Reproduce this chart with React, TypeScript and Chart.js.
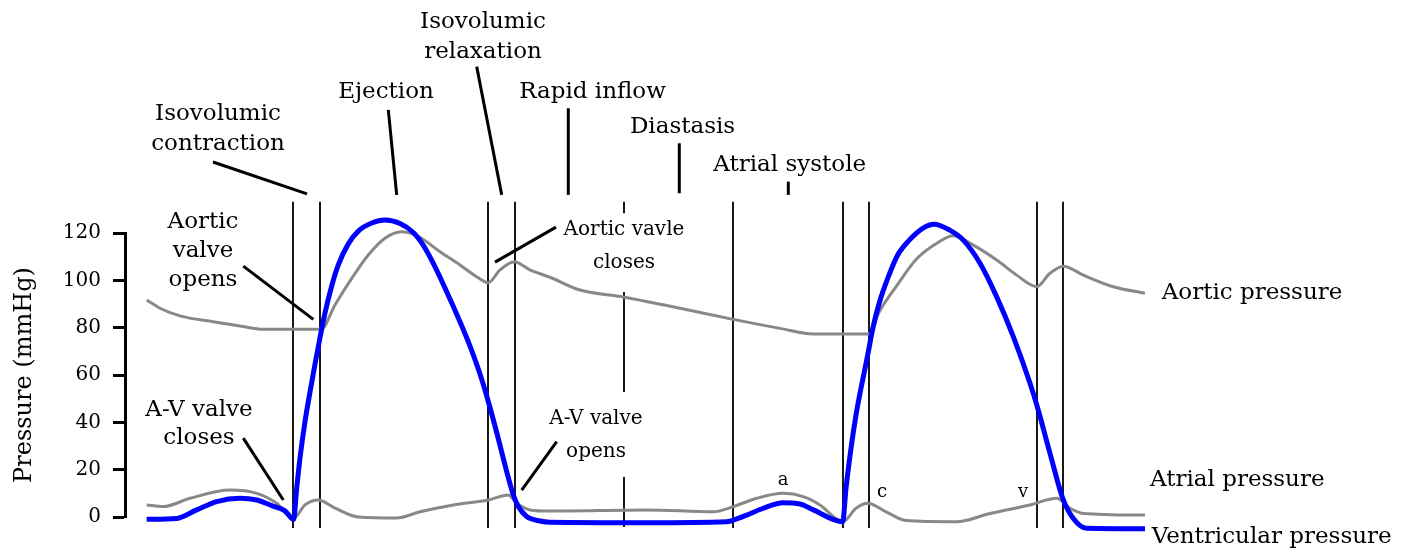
import React, { useEffect, useRef } from "react";
import { Chart, registerables } from "chart.js";

Chart.register(...registerables);

// time axis (arbitrary units) and pressures (mmHg)
const ventricularTime = [21.7, 51.7, 71.7, 91.7, 115, 131.7, 148, 160, 168.5, 171.7, 175, 180, 185, 190, 195, 200, 206.7, 213.3, 223.3, 233.3, 246.7, 260, 275, 288.3, 298, 308.3, 321.7, 335, 345, 355, 363.3, 371.7, 381.7, 388.3, 393.3, 401.7, 415, 425, 521.7, 601.7, 608.3, 621.7, 638.3, 658.3, 675, 688.3, 717.7, 721, 726, 731, 736, 742.7, 747.7, 754.3, 762.7, 772.7, 784.3, 797.7, 809.3, 824.3, 838.3, 855, 871.7, 888.3, 905, 912.3, 925, 938.3, 948.3, 961.7, 1020];
const ventricularPressure = [-1, -0.6, 3, 6.5, 7.9, 7.2, 4.6, 2.6, -1, 12.1, 24.9, 40.3, 52.8, 64.6, 75.8, 86.2, 97.6, 106.5, 115.4, 120.8, 124.2, 125.5, 124, 120.2, 115, 107.2, 95.2, 82.5, 72.2, 60.4, 48.8, 35.7, 19.2, 9.4, 4.4, 0.2, -1.7, -2.2, -2.4, -2, -1.3, 0.8, 3.7, 6, 5.5, 3, -2, 12.1, 29, 43.1, 54.4, 68.4, 79.5, 90.5, 100.8, 110.7, 117, 122, 123.7, 121.3, 117, 107.2, 93, 76.2, 56.5, 46.6, 26.9, 7.2, -0.6, -4.8, -5];

const aorticTime = [21.7, 35, 55, 88.3, 115, 138.3, 196, 210, 226.7, 243.3, 260, 276.7, 288.3, 295, 315, 335, 351.7, 363.3, 375, 389.3, 405, 425, 455, 498.3, 555, 608.3, 655, 688.3, 744, 754.3, 771.5, 791.5, 813, 828, 848.3, 871.7, 891.7, 911.7, 925, 938.3, 958.3, 988.3, 1020];
const aorticPressure = [91.7, 88.2, 85, 82.5, 80.7, 79.3, 79.3, 89.6, 100.8, 110.7, 117.8, 120.5, 119.5, 118.2, 112.1, 106.5, 101.5, 99, 104.4, 107.9, 104.4, 101.3, 95.9, 93, 88.2, 83.5, 79.7, 77.3, 77.3, 86.7, 97.6, 109, 116, 118.8, 114.9, 108.6, 102.2, 97.3, 103, 106, 102.2, 97.3, 94.5];

const atrialTime = [21.7, 38.3, 65, 105, 131.7, 151.7, 168.5, 180, 193.3, 210, 233.3, 271.7, 295, 328.3, 363.3, 383.3, 391.7, 405, 425, 521.7, 588.3, 608.3, 631.7, 658.3, 678.3, 695, 717.7, 731, 742.7, 761, 781, 831.7, 865, 905, 931.7, 945, 958.3, 1020];
const atrialPressure = [5.1, 4.4, 7.9, 11.4, 10, 5.8, -0.6, 5.1, 7.2, 3.7, 0, -0.4, 2.2, 5.1, 7.2, 9.3, 5.8, 3, 2.5, 3, 2.2, 4.4, 7.9, 10, 8.6, 5.1, -2, 3.7, 5.8, 2.2, -1.5, -2, 1.5, 5.1, 7.9, 3.7, 1.5, 0.8];

const yTicks = [0, 20, 40, 60, 80, 100, 120];

// phase boundary lines (time)
const phaseLines = [168, 195, 363, 390, 608, 718, 744, 912, 938];
const phaseLineTop = 133.2;
const phaseLineBottom = -4.6;
// broken marker line: [time, from, to]
const brokenLineSegments = [
  [499, 133.2, 128.3],
  [499, 95.1, 52.8],
  [499, 16.9, -4.2],
];

// pointer lines [t1, p1, t2, p2]
const pointers = [
  [88, 150, 182, 136.5],
  [263.3, 172, 271.7, 136.1],
  [351.7, 190.3, 376.7, 136.1],
  [443.3, 172.7, 443.3, 136.1],
  [554.3, 157.9, 554.3, 136.8],
  [663.3, 141.7, 663.3, 136.1],
  [118.3, 106, 188.3, 83.5],
  [118.3, 33.3, 158.3, 7.2],
  [370, 107.7, 431, 122.5],
  [396.7, 11.4, 431.7, 31.8],
];

// labels: text lines, anchor time, anchor pressure
const labelTexts = [
  ["Isovolumic", "contraction"],
  ["Ejection"],
  ["Isovolumic", "relaxation"],
  ["Rapid inflow"],
  ["Diastasis"],
  ["Atrial systole"],
  ["Aortic", "valve", "opens"],
  ["A-V valve", "closes"],
  ["Aortic vavle", "closes"],
  ["A-V valve", "opens"],
  ["a"],
  ["c"],
  ["v"],
];
const labelTime = [93, 261, 358, 467.5, 557.5, 664.7, 78, 74, 499, 471, 658, 757, 898];
const labelPressure = [170.3, 179.6, 209.3, 179.6, 164.9, 148.7, 124.8, 45.2, 121.3, 41.7, 15.6, 10.3, 10.3];
const labelSize = [23, 23, 23, 23, 23, 23, 23, 23, 20, 20, 18, 18, 18];
const labelSpacing = [30, 30, 30, 30, 30, 30, 29.3, 28.5, 33, 33, 0, 0, 0];

const seriesNames = ["Aortic pressure", "Atrial pressure", "Ventricular pressure"];
const seriesNameTime = [1036.7, 1025, 1026.7];
const seriesNamePressure = [94.5, 15.6, -8.3];

const FONT = "'DejaVu Serif', serif";

function toPoints(t: number[], p: number[]) {
  return t.map((x, i) => ({ x, y: p[i] }));
}

const annotationPlugin = {
  id: "wiggersAnnotations",
  beforeDatasetsDraw(chart: any) {
    const { ctx, scales } = chart;
    const xs = scales.x;
    const ys = scales.y;
    ctx.save();
    ctx.strokeStyle = "#000";
    ctx.lineWidth = 1.8;
    ctx.beginPath();
    phaseLines.forEach((t) => {
      const px = xs.getPixelForValue(t);
      ctx.moveTo(px, ys.getPixelForValue(phaseLineTop));
      ctx.lineTo(px, ys.getPixelForValue(phaseLineBottom));
    });
    brokenLineSegments.forEach(([t, a, b]) => {
      const px = xs.getPixelForValue(t);
      ctx.moveTo(px, ys.getPixelForValue(a));
      ctx.lineTo(px, ys.getPixelForValue(b));
    });
    ctx.stroke();
    ctx.restore();
  },
  afterDatasetsDraw(chart: any) {
    const { ctx, scales } = chart;
    const xs = scales.x;
    const ys = scales.y;
    ctx.save();
    ctx.strokeStyle = "#000";
    ctx.lineWidth = 3;
    ctx.lineCap = "butt";
    pointers.forEach(([t1, p1, t2, p2]) => {
      ctx.beginPath();
      ctx.moveTo(xs.getPixelForValue(t1), ys.getPixelForValue(p1));
      ctx.lineTo(xs.getPixelForValue(t2), ys.getPixelForValue(p2));
      ctx.stroke();
    });
    ctx.fillStyle = "#000";
    ctx.textBaseline = "middle";
    ctx.textAlign = "center";
    labelTexts.forEach((lines, i) => {
      ctx.font = `${labelSize[i]}px ${FONT}`;
      const cx = xs.getPixelForValue(labelTime[i]);
      const cy = ys.getPixelForValue(labelPressure[i]);
      lines.forEach((ln, j) => {
        ctx.fillText(ln, cx, cy + j * labelSpacing[i]);
      });
    });
    ctx.textAlign = "left";
    ctx.font = `23px ${FONT}`;
    seriesNames.forEach((name, i) => {
      ctx.fillText(name, xs.getPixelForValue(seriesNameTime[i]), ys.getPixelForValue(seriesNamePressure[i]));
    });
    ctx.restore();
  },
};

export default function App() {
  const canvasRef = useRef<HTMLCanvasElement | null>(null);

  useEffect(() => {
    document.body.style.margin = "0";
    const canvas = canvasRef.current;
    if (!canvas) return;
    const lineStyle = { pointRadius: 0, cubicInterpolationMode: "monotone", clip: false };
    const chart = new Chart(canvas, {
      type: "line",
      data: {
        datasets: [
          {
            label: "Ventricular pressure",
            data: toPoints(ventricularTime, ventricularPressure),
            borderColor: "#0000ff",
            borderWidth: 5,
            ...lineStyle,
          },
          {
            label: "Aortic pressure",
            data: toPoints(aorticTime, aorticPressure),
            borderColor: "#888888",
            borderWidth: 3,
            ...lineStyle,
          },
          {
            label: "Atrial pressure",
            data: toPoints(atrialTime, atrialPressure),
            borderColor: "#888888",
            borderWidth: 3,
            ...lineStyle,
          },
        ],
      },
      options: {
        animation: false,
        responsive: true,
        maintainAspectRatio: false,
        layout: { padding: { top: 233, bottom: 34, left: 0, right: 271 } },
        plugins: {
          legend: { display: false },
          tooltip: { enabled: false },
        },
        scales: {
          x: { type: "linear", min: 0, max: 1020, display: false },
          y: {
            min: 0,
            max: 120,
            afterBuildTicks: (scale: any) => {
              scale.ticks = yTicks.map((v) => ({ value: v }));
            },
            afterFit: (scale: any) => {
              scale.width = 125;
              scale.paddingTop = 0;
              scale.paddingBottom = 0;
            },
            border: { display: true, color: "#000", width: 3 },
            grid: {
              drawOnChartArea: false,
              drawTicks: true,
              tickLength: 12,
              tickWidth: 3,
              tickColor: "#000",
            },
            ticks: {
              padding: 12,
              color: "#000",
              font: { family: "DejaVu Serif", size: 20 },
            },
            title: {
              display: true,
              text: "Pressure (mmHg)",
              color: "#000",
              font: { family: "DejaVu Serif", size: 24 },
              padding: { top: 10, bottom: 0 },
            },
          },
        },
      },
      plugins: [annotationPlugin],
    } as any);
    return () => chart.destroy();
  }, []);

  return (
    <div style={{ position: "fixed", left: 0, top: 0, width: 1416, height: 551, background: "#fff" }}>
      <canvas ref={canvasRef} />
    </div>
  );
}
